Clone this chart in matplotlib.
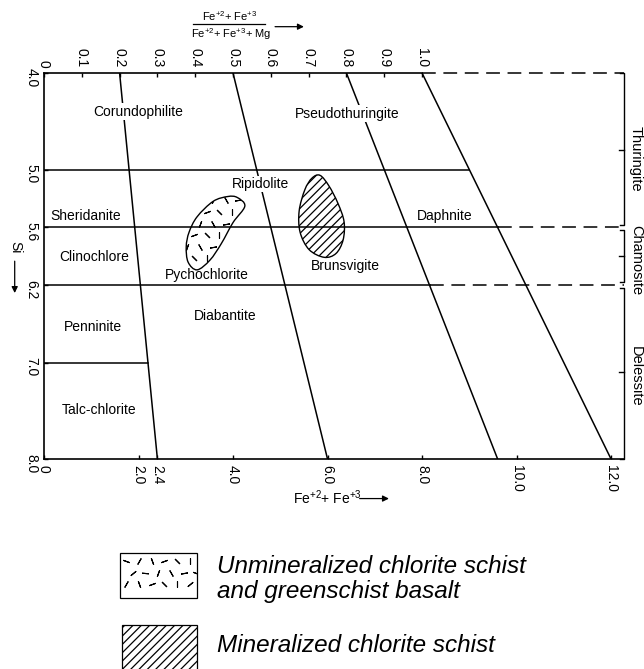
import numpy as np
import matplotlib.pyplot as plt
from matplotlib.path import Path
from matplotlib.patches import PathPatch, Rectangle

plt.rcParams['font.family'] = ['Liberation Sans', 'DejaVu Sans']
plt.rcParams['mathtext.fontset'] = 'custom'
plt.rcParams['mathtext.rm'] = 'Liberation Sans'
plt.rcParams['mathtext.it'] = 'Liberation Sans:italic'
plt.rcParams['hatch.linewidth'] = 0.9

# Fe/(Fe+Mg) boundaries, each a straight line from Si = 4 to Si = 8
ratios = [0.2, 0.5, 0.8, 1.0]
fe_mg_top = 8.0      # Fe + Mg at Si = 4.0
fe_mg_bottom = 12.0  # Fe + Mg at Si = 8.0
si_min, si_max = 4.0, 8.0

# Si boundaries: solid up to a ratio line, optionally dashed to the right edge
si_bounds = [5.0, 5.6, 6.2]
si_bound_ratio = [1.0, 1.0, 0.8]
si_bound_dashed = [False, True, True]
si_talc = 7.0  # Penninite / Talc-chlorite, only left of the 0.2 line

fe_ticks = [0, 2.0, 2.4, 4.0, 6.0, 8.0, 10.0, 12.0]
fe_labels = ['0', '2.0', '2.4', '4.0', '6.0', '8.0', '10.0', '12.0']
ratio_ticks = [0, 0.1, 0.2, 0.3, 0.4, 0.5, 0.6, 0.7, 0.8, 0.9, 1.0]
ratio_labels = ['0', '0.1', '0.2', '0.3', '0.4', '0.5', '0.6', '0.7', '0.8', '0.9', '1.0']
si_ticks = [4.0, 5.0, 5.6, 6.2, 7.0, 8.0]
si_labels = ['4.0', '5.0', '5.6', '6.2', '7.0', '8.0']

species = ['Corundophilite', 'Pseudothuringite', 'Ripidolite', 'Sheridanite',
           'Daphnite', 'Clinochlore', 'Pychochlorite', 'Brunsvigite',
           'Diabantite', 'Penninite', 'Talc-chlorite']
species_fe = [1.99, 6.41, 4.59, 0.89, 8.49, 1.06, 3.45, 6.37, 3.83, 1.04, 1.16]
species_si = [4.40, 4.42, 5.15, 5.48, 5.48, 5.91, 6.09, 6.00, 6.52, 6.63, 7.49]

groups = ['Thuringite', 'Chamosite', 'Delessite']
group_si = [(4.0, 5.6), (5.6, 6.2), (6.2, 8.0)]
group_label_si = [4.89, 5.94, 7.14]

# outlines of the two sample fields (Fe total, Si)
unmin_fe = [4.09, 4.25, 4.00, 3.75, 3.51, 3.24, 3.05, 3.01, 3.07, 3.24, 3.58, 3.89]
unmin_si = [5.29, 5.38, 5.55, 5.77, 5.94, 6.04, 5.96, 5.80, 5.65, 5.49, 5.33, 5.28]
min_fe = [5.84, 6.03, 6.22, 6.35, 6.33, 6.18, 5.93, 5.61, 5.42, 5.40, 5.52, 5.67]
min_si = [5.06, 5.17, 5.35, 5.54, 5.73, 5.87, 5.91, 5.83, 5.65, 5.43, 5.21, 5.09]

legend_labels = ['Unmineralized chlorite schist\nand greenschist basalt',
                 'Mineralized chlorite schist']


def smooth_closed(xs, ys):
    # closed Catmull-Rom outline handed to Path as cubic Bezier segments
    pts = np.column_stack([xs, ys])
    n = len(pts)
    verts = [pts[0]]
    codes = [Path.MOVETO]
    for i in range(n):
        p0, p1, p2, p3 = pts[i - 1], pts[i], pts[(i + 1) % n], pts[(i + 2) % n]
        verts += [p1 + (p2 - p0) / 6, p2 - (p3 - p1) / 6, p2]
        codes += [Path.CURVE4] * 3
    return Path(verts, codes)


def dash_texture(ax, clip, x0, x1, y0, y1):
    # short strokes at mixed angles, clipped to a field
    gx, gy = np.meshgrid(np.arange(x0, x1, 0.27), np.arange(y0, y1, 0.12))
    gx[1::2] += 0.135
    px, py = gx.ravel(), gy.ravel()
    angles = [70, 150, 20, 110, 45, 0, 130, 85, 160, 30, 100]
    for k, a in enumerate(angles):
        m, = ax.plot(px[k::len(angles)], py[k::len(angles)], ls='none',
                     marker=(2, 2, a), ms=5, mew=0.8, color='k', zorder=5)
        m.set_clip_path(clip)


fig = plt.figure(figsize=(6.44, 6.69), dpi=100)
ax = fig.add_axes([44 / 644, 210 / 669, 581.2 / 644, 386 / 669])
ax.set_xlim(0, 12.3)
ax.set_ylim(si_max, si_min)
right_x = 12.28
lw = 1.1

for s in ['top', 'right']:
    ax.spines[s].set_visible(False)
ax.spines['left'].set_linewidth(1.2)
ax.spines['bottom'].set_linewidth(1.2)
ax.spines['bottom'].set_bounds(0, right_x)

ax.set_xticks(fe_ticks, labels=fe_labels)
ax.set_yticks(si_ticks, labels=si_labels)
ax.tick_params(direction='in', length=3, width=1, labelsize=10, pad=4)
for t in ax.get_xticklabels() + ax.get_yticklabels():
    t.set_rotation(-90)

sec = ax.secondary_xaxis('top', functions=(lambda x: x / fe_mg_top, lambda r: r * fe_mg_top))
sec.set_xticks(ratio_ticks, labels=ratio_labels)
sec.spines['top'].set_visible(False)
sec.tick_params(direction='in', length=3, width=1, labelsize=10, pad=4)
for t in sec.get_xticklabels():
    t.set_rotation(-90)

# top edge: solid up to ratio 1.0, dashed beyond
ax.plot([0, fe_mg_top], [si_min, si_min], color='k', lw=1.2, clip_on=False, zorder=2)
ax.plot([fe_mg_top, right_x], [si_min, si_min], color='k', lw=lw, dashes=(9, 5),
        clip_on=False, zorder=2)

# ratio lines
for r in ratios:
    ax.plot([r * fe_mg_top, r * fe_mg_bottom], [si_min, si_max], color='k', lw=lw, zorder=2)


def ratio_x(r, si):
    return r * (fe_mg_top + (fe_mg_bottom - fe_mg_top) * (si - si_min) / (si_max - si_min))


for si, r, dashed in zip(si_bounds, si_bound_ratio, si_bound_dashed):
    xe = ratio_x(r, si)
    ax.plot([0, xe], [si, si], color='k', lw=lw, zorder=2)
    if dashed:
        ax.plot([xe, right_x], [si, si], color='k', lw=lw, dashes=(9, 5),
                clip_on=False, zorder=2)
ax.plot([0, ratio_x(ratios[0], si_talc)], [si_talc, si_talc], color='k', lw=lw, zorder=2)

# brackets on the right
gap, hook = 0.03, 0.1
for (s0, s1), name, ly in zip(group_si, groups, group_label_si):
    top = s0 + gap if s0 > si_min else s0
    bot = s1 - gap if s1 < si_max else s1
    ax.plot([right_x - hook, right_x, right_x, right_x - hook], [top, top, bot, bot],
            color='k', lw=1.0, clip_on=False)
    mid = (s0 + s1) / 2
    ax.plot([right_x - 0.12, right_x], [mid, mid], color='k', lw=1.0, clip_on=False)
    ax.text(12.53, ly, name, rotation=-90, ha='center', va='center', fontsize=10.5,
            clip_on=False)

for name, x, y in zip(species, species_fe, species_si):
    ax.text(x, y, name, ha='center', va='center', fontsize=10, zorder=3,
            bbox=dict(fc='white', ec='none', pad=1))

# sample fields
unmin = PathPatch(smooth_closed(unmin_fe, unmin_si), fc='none', ec='k', lw=1.0, zorder=4)
ax.add_patch(unmin)
dash_texture(ax, unmin, 2.9, 4.4, 5.2, 6.1)
mineral = PathPatch(smooth_closed(min_fe, min_si), fc='none', ec='k', lw=1.0,
                    hatch='////', zorder=4)
ax.add_patch(mineral)

# axis captions
ax.text(3.94, 3.41, r'Fe$^{+2}$+ Fe$^{+3}$', ha='center', va='center', fontsize=8,
        clip_on=False)
ax.text(3.96, 3.60, r'Fe$^{+2}$+ Fe$^{+3}$+ Mg', ha='center', va='center', fontsize=8,
        clip_on=False)
ax.plot([3.15, 4.68], [3.49, 3.49], color='k', lw=0.9, clip_on=False)
ax.annotate('', xy=(5.5, 3.52), xytext=(4.89, 3.52), annotation_clip=False,
            arrowprops=dict(arrowstyle='-|>', lw=0.9, color='k', mutation_scale=9,
                            shrinkA=0, shrinkB=0))

ax.text(5.27, 8.40, r'Fe$^{+2}$+ Fe$^{+3}$', ha='left', va='center', fontsize=10,
        clip_on=False)
ax.annotate('', xy=(7.3, 8.41), xytext=(6.68, 8.41), annotation_clip=False,
            arrowprops=dict(arrowstyle='-|>', lw=0.9, color='k', mutation_scale=9,
                            shrinkA=0, shrinkB=0))

ax.text(-0.61, 5.81, 'Si', rotation=-90, ha='center', va='center', fontsize=10,
        clip_on=False)
ax.annotate('', xy=(-0.62, 6.28), xytext=(-0.62, 5.95), annotation_clip=False,
            arrowprops=dict(arrowstyle='-|>', lw=0.9, color='k', mutation_scale=9,
                            shrinkA=0, shrinkB=0))

# key below the diagram
box1 = Rectangle((1.61, 8.97), 1.63, 0.47, fc='none', ec='k', lw=0.9, clip_on=False)
ax.add_patch(box1)
dash_texture(ax, box1, 1.74, 3.15, 9.06, 9.4)
box2 = Rectangle((1.65, 9.72), 1.59, 0.6, fc='none', ec='k', lw=0.9, hatch='////',
                 clip_on=False)
ax.add_patch(box2)
ax.text(3.66, 9.24, legend_labels[0], ha='left', va='center', fontsize=17.5,
        style='italic', linespacing=1.1, clip_on=False)
ax.text(3.66, 9.93, legend_labels[1], ha='left', va='center', fontsize=17.5,
        style='italic', clip_on=False)

fig.savefig('out.png', dpi=100)
